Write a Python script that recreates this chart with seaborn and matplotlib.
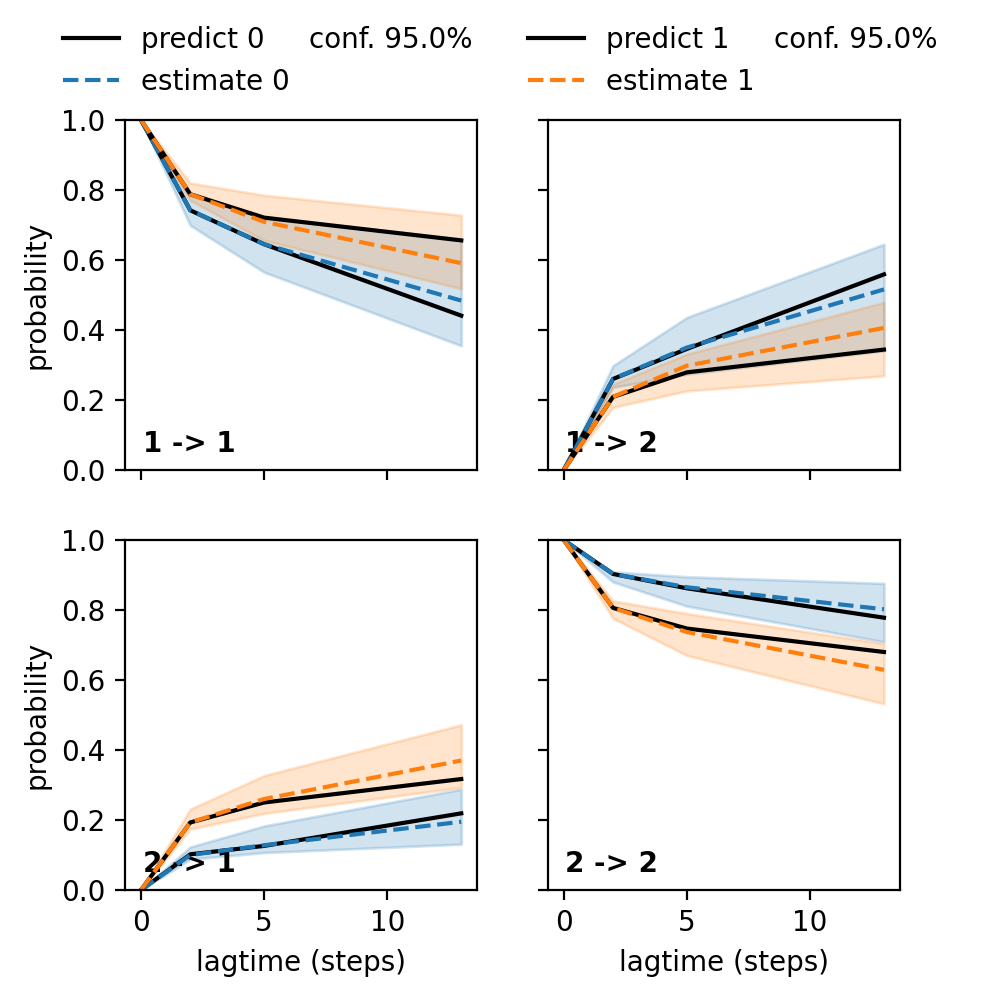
import matplotlib
matplotlib.use("Agg")
import matplotlib.pyplot as plt
from matplotlib.lines import Line2D
import seaborn as sns
import numpy as np

# lagtimes in steps
lagtimes = [0, 2, 5, 13]
panel_labels = ["1 -> 1", "1 -> 2", "2 -> 1", "2 -> 2"]

# model 0 (one list per panel, same order as panel_labels)
predict_0 = [[1.0, 0.742, 0.645, 0.441],
             [0.0, 0.260, 0.346, 0.559],
             [0.0, 0.102, 0.126, 0.219],
             [1.0, 0.903, 0.862, 0.778]]
estimate_0 = [[1.0, 0.742, 0.645, 0.484],
              [0.0, 0.260, 0.350, 0.516],
              [0.0, 0.100, 0.128, 0.195],
              [1.0, 0.903, 0.865, 0.802]]
conf_lo_0 = [[1.0, 0.699, 0.565, 0.355],
             [0.0, 0.236, 0.274, 0.341],
             [0.0, 0.088, 0.107, 0.131],
             [1.0, 0.880, 0.811, 0.709]]
conf_hi_0 = [[1.0, 0.785, 0.722, 0.660],
             [0.0, 0.298, 0.436, 0.645],
             [0.0, 0.123, 0.183, 0.288],
             [1.0, 0.909, 0.895, 0.876]]

# model 1
predict_1 = [[1.0, 0.788, 0.721, 0.656],
             [0.0, 0.209, 0.279, 0.344],
             [0.0, 0.193, 0.250, 0.317],
             [1.0, 0.806, 0.747, 0.680]]
estimate_1 = [[1.0, 0.788, 0.709, 0.591],
              [0.0, 0.209, 0.298, 0.406],
              [0.0, 0.193, 0.260, 0.370],
              [1.0, 0.806, 0.737, 0.629]]
conf_lo_1 = [[1.0, 0.770, 0.656, 0.518],
             [0.0, 0.179, 0.226, 0.269],
             [0.0, 0.174, 0.219, 0.293],
             [1.0, 0.776, 0.670, 0.532]]
conf_hi_1 = [[1.0, 0.820, 0.785, 0.728],
             [0.0, 0.245, 0.331, 0.479],
             [0.0, 0.231, 0.327, 0.472],
             [1.0, 0.826, 0.790, 0.704]]

conf_level = 95.0
model_colors = ["C0", "C1"]

models = [
    (predict_0, estimate_0, conf_lo_0, conf_hi_0),
    (predict_1, estimate_1, conf_lo_1, conf_hi_1),
]

fig, axes = plt.subplots(2, 2, figsize=(5, 5), dpi=200, sharex=True, sharey=True)

for k, ax in enumerate(axes.flat):
    for m, (pred, est, lo, hi) in enumerate(models):
        color = model_colors[m]
        ax.fill_between(lagtimes, lo[k], hi[k], color=color, alpha=0.2)
        sns.lineplot(x=lagtimes, y=pred[k], ax=ax, color="k", linestyle="-")
        sns.lineplot(x=lagtimes, y=est[k], ax=ax, color=color, linestyle="--")
    ax.text(0.05, 0.05, panel_labels[k], transform=ax.transAxes,
            fontweight="bold", zorder=1)
    ax.set_ylim(0, 1)

for ax in axes[1, :]:
    ax.set_xlabel("lagtime (steps)")
for ax in axes[:, 0]:
    ax.set_ylabel("probability")

legend_x = [0.038, 0.503]
for m, color in enumerate(model_colors):
    handles = [Line2D([], [], color="k", linestyle="-"),
               Line2D([], [], color=color, linestyle="--"),
               Line2D([], [], alpha=0)]
    labels = [f"predict {m}", f"estimate {m}", f"conf. {conf_level}%"]
    fig.legend(handles, labels, ncol=2, frameon=False, loc="upper left",
               bbox_to_anchor=(legend_x[m], 0.999), columnspacing=-2.11)

fig.savefig("out.png", dpi=200)
